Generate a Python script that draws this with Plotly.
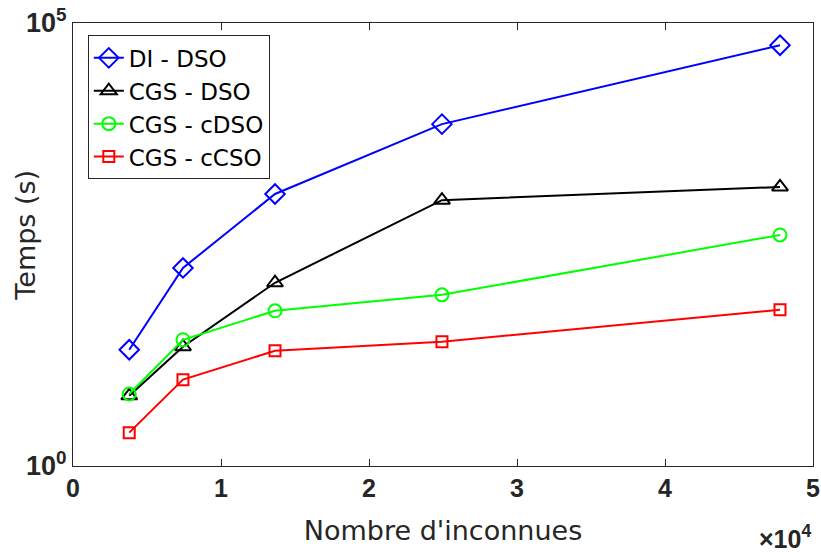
import plotly.graph_objects as go

x_vals = [3800, 7430, 13650, 24930, 47770]
di_dso = [20.5, 172, 1175, 7220, 56100]
cgs_dso = [6.2, 22.2, 117, 1000, 1410]
cgs_cdso = [6.5, 26.6, 56.5, 85.5, 405]
cgs_ccso = [2.38, 9.43, 20.0, 25.3, 58]

series = [
    ("DI - DSO", di_dso, "#0000ff", "diamond-open", 15),
    ("CGS - DSO", cgs_dso, "#000000", "triangle-up-open", 14),
    ("CGS - cDSO", cgs_cdso, "#00ff00", "circle-open", 13),
    ("CGS - cCSO", cgs_ccso, "#ff0000", "square-open", 11),
]

x_ticks = [0, 10000, 20000, 30000, 40000, 50000]
x_tick_labels = ["<b>0</b>", "<b>1</b>", "<b>2</b>", "<b>3</b>", "<b>4</b>", "<b>5</b>"]
y_ticks = [1, 100000]
y_tick_labels = ["<b>10<sup>0</sup></b>", "<b>10<sup>5</sup></b>"]

fig = go.Figure()
for name, vals, color, sym, size in series:
    fig.add_trace(go.Scatter(
        x=x_vals, y=vals, name=name, mode="lines+markers",
        line=dict(color=color, width=2),
        marker=dict(symbol=sym, size=size, color=color, line=dict(width=2, color=color)),
    ))

axis_color = "#262626"
fig.update_layout(
    width=821, height=552,
    margin=dict(l=73, r=8, t=23, b=86),
    paper_bgcolor="white", plot_bgcolor="white",
    showlegend=True,
    legend=dict(
        x=0.02, y=0.972, xanchor="left", yanchor="top",
        bgcolor="white", bordercolor=axis_color, borderwidth=1,
        font=dict(family="DejaVu Sans", size=23, color="black"),
        itemwidth=30, tracegroupgap=0,
    ),
    xaxis=dict(
        range=[0, 50000], tickvals=x_ticks, ticktext=x_tick_labels,
        ticks="inside", ticklen=7, tickcolor=axis_color, tickwidth=1,
        showline=True, linecolor=axis_color, linewidth=1, mirror="ticks",
        showgrid=False, zeroline=False, automargin=False,
        tickfont=dict(family="Liberation Sans", size=25, color=axis_color),
        title=dict(text="Nombre d'inconnues", font=dict(family="DejaVu Sans", size=27, color=axis_color), standoff=20),
    ),
    yaxis=dict(
        type="log", range=[0, 5], tickvals=y_ticks, ticktext=y_tick_labels,
        ticks="", showline=True, linecolor=axis_color, linewidth=1, mirror=True,
        showgrid=False, zeroline=False, automargin=False,
        tickfont=dict(family="Liberation Sans", size=27, color=axis_color),
    ),
    annotations=[
        dict(
            text="<b>×10<sup>4</sup></b>", xref="paper", yref="paper", x=1.0, y=-0.16,
            xanchor="right", yanchor="middle", showarrow=False,
            font=dict(family="Liberation Sans", size=25, color=axis_color),
        ),
        dict(
            text="Temps (s)", xref="paper", yref="paper", x=0, y=0.52,
            xanchor="center", yanchor="middle", xshift=-47, textangle=-90, showarrow=False,
            font=dict(family="DejaVu Sans", size=27, color=axis_color),
        ),
    ],
)

fig.write_html("out.html")
